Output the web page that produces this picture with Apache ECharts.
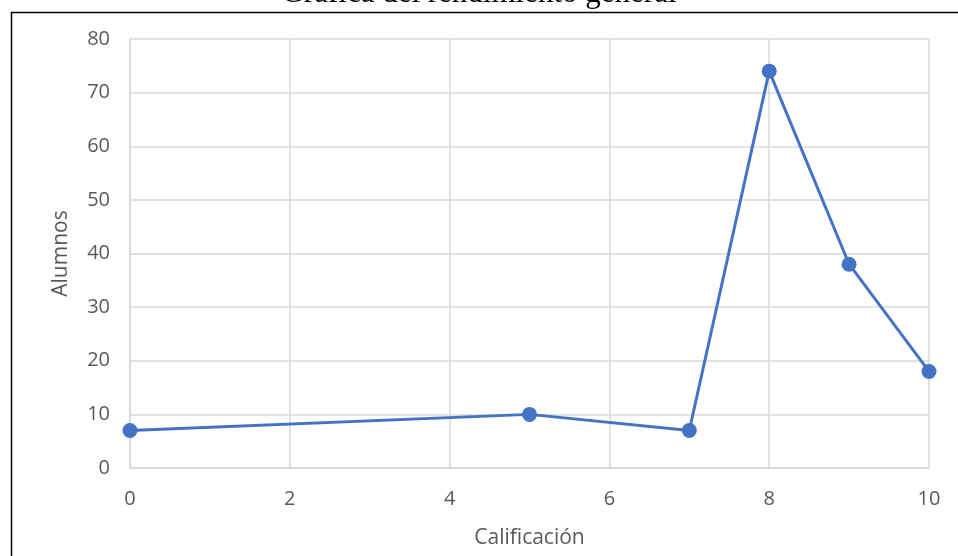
<!DOCTYPE html>
<html>
<head>
<meta charset="utf-8">
<script src="https://cdn.jsdelivr.net/npm/echarts@6/dist/echarts.min.js"></script>
<style>
  html, body { margin: 0; padding: 0; background: #fff; }
  #chart { width: 958px; height: 556px; }
</style>
</head>
<body>
<div id="chart"></div>
<script>
// Calificación vs. number of students
const calificaciones = [0, 5, 7, 8, 9, 10];
const alumnos = [7, 10, 7, 74, 38, 18];
const titleText = 'Gráfica del rendimiento general';
const xAxisName = 'Calificación';
const yAxisName = 'Alumnos';

const chart = echarts.init(document.getElementById('chart'));
const labelFont = '"Open Sans", "Noto Sans", sans-serif';

chart.setOption({
  animation: false,
  backgroundColor: '#ffffff',
  title: {
    text: titleText,
    left: 'center',
    top: -27,
    textStyle: { fontFamily: '"Liberation Serif", serif', fontSize: 31, fontWeight: 'normal', color: '#000' }
  },
  graphic: [{
    type: 'rect',
    left: 9, top: 10,
    shape: { width: 1000, height: 600 },
    style: { fill: 'none', stroke: '#000', lineWidth: 1.5 },
    z: 100
  }],
  grid: { left: 130, right: 29, top: 39, bottom: 88 },
  xAxis: {
    type: 'value',
    min: 0, max: 10, interval: 2,
    name: xAxisName,
    nameLocation: 'middle',
    nameGap: 60,
    nameTextStyle: { fontFamily: labelFont, fontSize: 21, color: '#595959' },
    axisLine: { show: true, lineStyle: { color: '#d9d9d9', width: 1.5 } },
    axisTick: { show: false },
    splitLine: { show: true, lineStyle: { color: '#d9d9d9', width: 1.5 } },
    axisLabel: { fontFamily: labelFont, fontSize: 20, color: '#595959', margin: 21 }
  },
  yAxis: {
    type: 'value',
    min: 0, max: 80, interval: 10,
    name: yAxisName,
    nameLocation: 'middle',
    nameGap: 58,
    nameTextStyle: { fontFamily: labelFont, fontSize: 21, color: '#595959' },
    axisLine: { show: true, lineStyle: { color: '#d9d9d9', width: 1.5 } },
    axisTick: { show: false },
    splitLine: { show: true, lineStyle: { color: '#d9d9d9', width: 1.5 } },
    axisLabel: { fontFamily: labelFont, fontSize: 20, color: '#595959', margin: 20 }
  },
  series: [{
    type: 'line',
    data: calificaciones.map((c, i) => [c, alumnos[i]]),
    symbol: 'circle',
    symbolSize: 15,
    lineStyle: { color: '#4472c4', width: 3 },
    itemStyle: { color: '#4472c4' }
  }]
});
</script>
</body>
</html>
